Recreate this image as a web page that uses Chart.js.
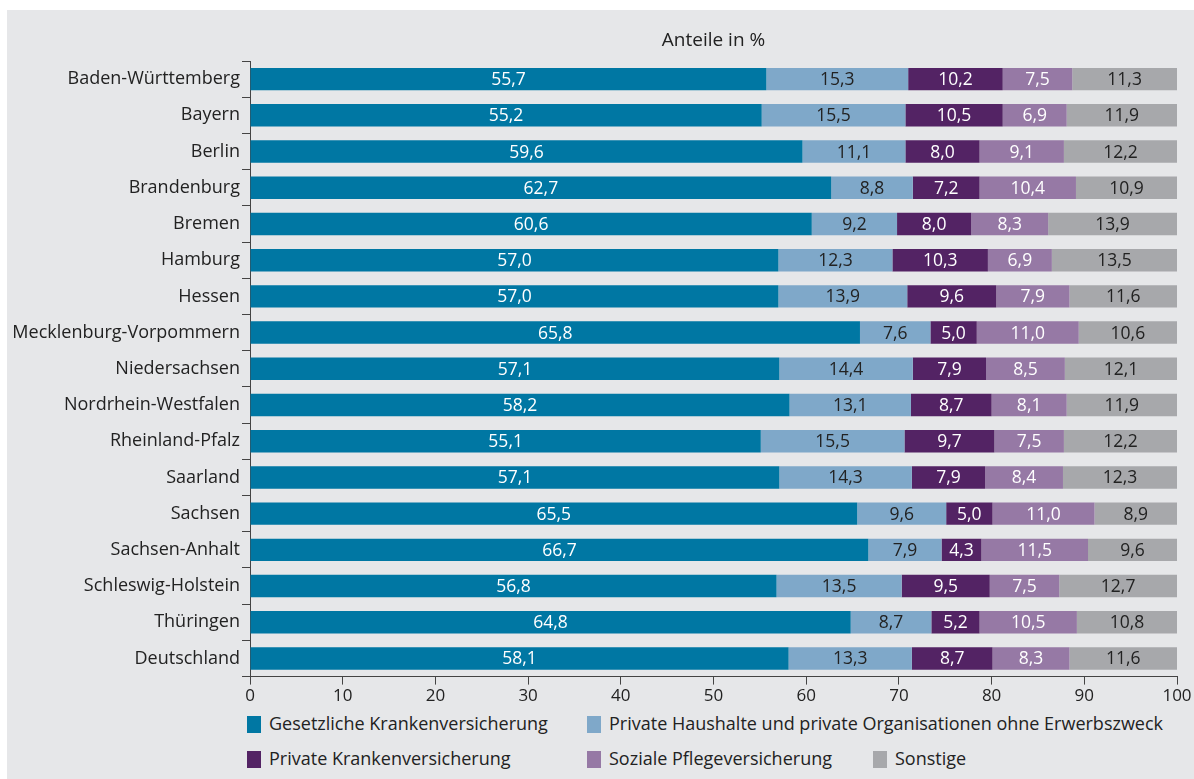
<!DOCTYPE html>
<html lang="de">
<head>
<meta charset="utf-8">
<script src="https://cdn.jsdelivr.net/npm/chart.js@4.4.1/dist/chart.umd.min.js"></script>
<style>
  html, body { margin:0; padding:0; background:#fff; }
  #panel { position:absolute; left:7px; top:10px; width:1187px; height:769px; background:#e6e7e9; font-family:"Open Sans", sans-serif; color:#222; }
  #wrap { position:absolute; left:0; top:0; width:1187px; height:697px; }
  .leg { position:absolute; font-size:18px; line-height:20px; white-space:nowrap; }
  .leg i { display:inline-block; width:14px; height:17px; vertical-align:-3px; margin-right:8px; }
</style>
</head>
<body>
<div id="panel">
  <div id="wrap"><canvas id="chart"></canvas></div>
  <div id="legend"></div>
</div>
<script>
(function(){
  // ---- Data
  const states = ['Baden-Württemberg','Bayern','Berlin','Brandenburg','Bremen','Hamburg','Hessen',
    'Mecklenburg-Vorpommern','Niedersachsen','Nordrhein-Westfalen','Rheinland-Pfalz','Saarland',
    'Sachsen','Sachsen-Anhalt','Schleswig-Holstein','Thüringen','Deutschland'];
  const gkv   = [55.7,55.2,59.6,62.7,60.6,57.0,57.0,65.8,57.1,58.2,55.1,57.1,65.5,66.7,56.8,64.8,58.1];
  const phh   = [15.3,15.5,11.1,8.8,9.2,12.3,13.9,7.6,14.4,13.1,15.5,14.3,9.6,7.9,13.5,8.7,13.3];
  const pkv   = [10.2,10.5,8.0,7.2,8.0,10.3,9.6,5.0,7.9,8.7,9.7,7.9,5.0,4.3,9.5,5.2,8.7];
  const spv   = [7.5,6.9,9.1,10.4,8.3,6.9,7.9,11.0,8.5,8.1,7.5,8.4,11.0,11.5,7.5,10.5,8.3];
  const sonst = [11.3,11.9,12.2,10.9,13.9,13.5,11.6,10.6,12.1,11.9,12.2,12.3,8.9,9.6,12.7,10.8,11.6];
  const xTicks = [0,10,20,30,40,50,60,70,80,90,100];

  const series = [
    { label:'Gesetzliche Krankenversicherung', data:gkv, color:'#0077a3', text:'#fff' },
    { label:'Private Haushalte und private Organisationen ohne Erwerbszweck', data:phh, color:'#7fa8c9', text:'#222' },
    { label:'Private Krankenversicherung', data:pkv, color:'#532364', text:'#fff' },
    { label:'Soziale Pflegeversicherung', data:spv, color:'#9679a5', text:'#fff' },
    { label:'Sonstige', data:sonst, color:'#a7a8ab', text:'#222' }
  ];

  const fmt = v => v.toFixed(1).replace('.', ',');

  // ---- Plugins: segment labels and title over plot area
  const segLabels = {
    id:'segLabels',
    afterDatasetsDraw(chart){
      const ctx = chart.ctx;
      ctx.save();
      ctx.font = '17.5px "Open Sans"';
      ctx.textAlign = 'center';
      ctx.textBaseline = 'middle';
      chart.data.datasets.forEach((ds, i) => {
        const meta = chart.getDatasetMeta(i);
        meta.data.forEach((bar, j) => {
          const p = bar.getProps(['x','y','base'], true);
          ctx.fillStyle = series[i].text;
          ctx.fillText(fmt(ds.data[j]), (p.x + p.base) / 2, p.y + 1);
        });
      });
      ctx.restore();
    }
  };

  const topTitle = {
    id:'topTitle',
    afterDraw(chart){
      const ctx = chart.ctx, a = chart.chartArea;
      ctx.save();
      ctx.font = '19px "Open Sans"';
      ctx.fillStyle = '#222';
      ctx.textAlign = 'center';
      ctx.textBaseline = 'middle';
      ctx.fillText('Anteile in %', (a.left + a.right) / 2, 31);
      ctx.restore();
    }
  };

  // ---- Chart
  new Chart(document.getElementById('chart'), {
    type:'bar',
    data:{
      labels: states,
      datasets: series.map(s => ({
        label: s.label, data: s.data, backgroundColor: s.color,
        borderWidth: 0, barPercentage: 0.62, categoryPercentage: 1
      }))
    },
    options:{
      indexAxis:'y',
      responsive:true,
      maintainAspectRatio:false,
      animation:false,
      layout:{ padding:{ top:51, right:17, left:0, bottom:0 } },
      scales:{
        x:{
          stacked:true, min:0, max:100,
          afterBuildTicks(scale){ scale.ticks = xTicks.map(v => ({ value:v })); },
          ticks:{ color:'#222', font:{ family:'Open Sans', size:17 }, padding:1 },
          grid:{ drawOnChartArea:false, tickLength:8, color:'#444' },
          border:{ color:'#444', width:1 }
        },
        y:{
          stacked:true,
          afterFit(scale){ scale.width = 243; },
          ticks:{ color:'#222', font:{ family:'Open Sans', size:18 }, padding:2 },
          grid:{ drawOnChartArea:false, tickLength:8, color:'#444', offset:true },
          border:{ color:'#444', width:1 }
        }
      },
      plugins:{
        legend:{ display:false },
        tooltip:{ enabled:false }
      }
    },
    plugins:[segLabels, topTitle]
  });

  // ---- Legend (two rows, fixed columns)
  const legPos = [[240,703],[580,703],[240,738],[580,738],[866,738]];
  const leg = document.getElementById('legend');
  series.forEach((s, i) => {
    const d = document.createElement('div');
    d.className = 'leg';
    d.style.left = legPos[i][0] + 'px';
    d.style.top = legPos[i][1] + 'px';
    d.innerHTML = '<i style="background:' + s.color + '"></i>' + s.label;
    leg.appendChild(d);
  });
})();
</script>
</body>
</html>
